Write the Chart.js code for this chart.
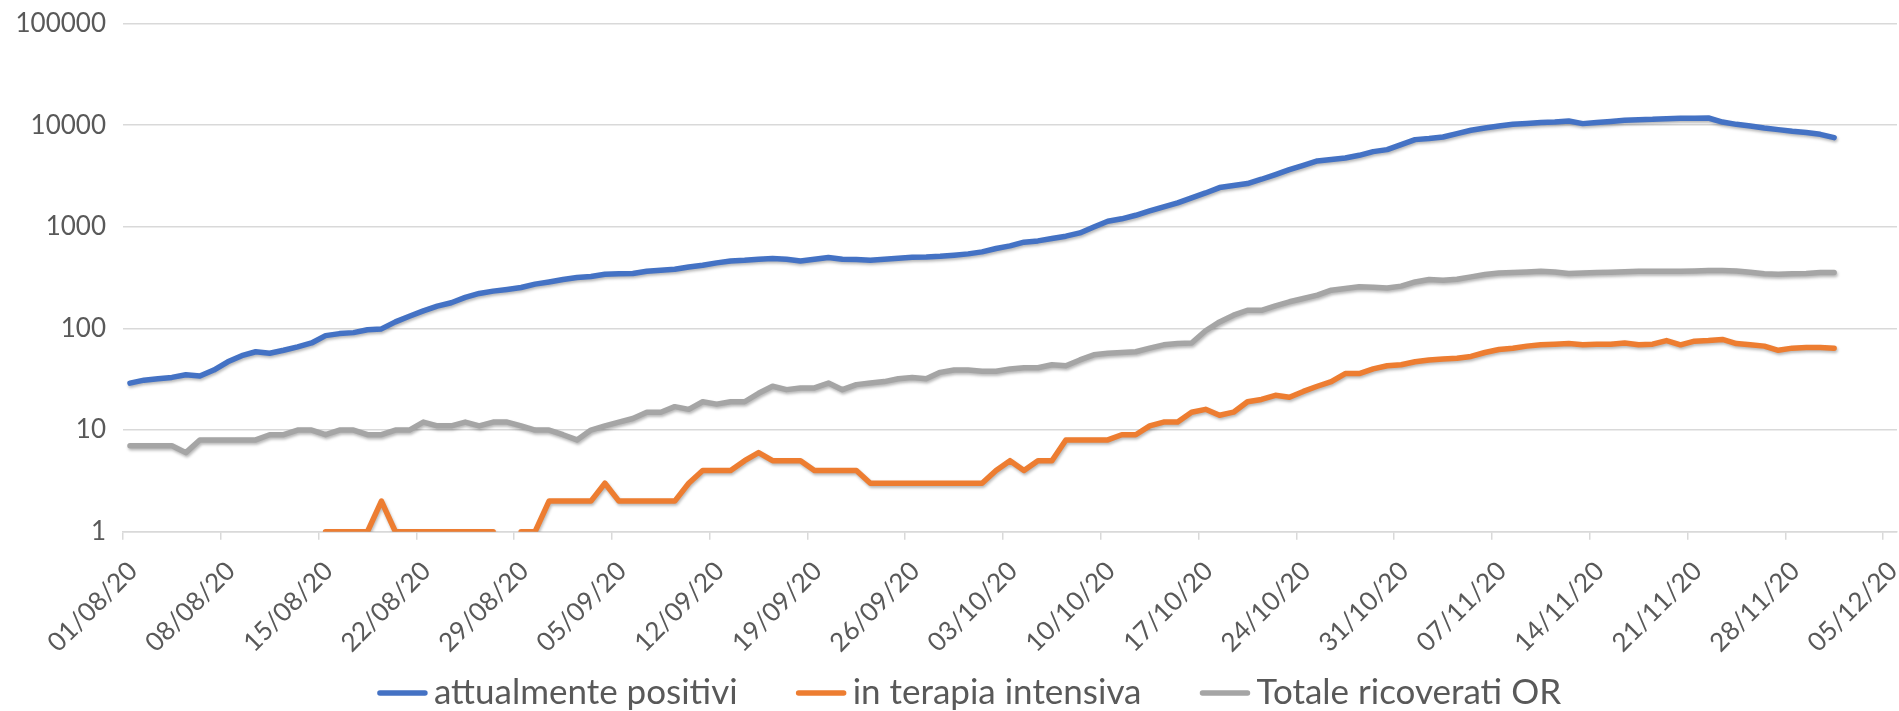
<!DOCTYPE html>
<html lang="it">
<head>
<meta charset="UTF-8">
<title>Attualmente positivi, terapia intensiva, ricoverati</title>
<style>
  html, body { margin: 0; padding: 0; background: #fff; }
  #wrap { width: 1899px; height: 711px; position: relative; }
</style>
</head>
<body>
<div id="wrap"><canvas id="grafico"></canvas></div>
<script src="https://cdn.jsdelivr.net/npm/chart.js@4"></script>
<script>
// one value per day, from 01/08/20 to 01/12/20
const positivi = [29,31,32,33,35,34,39,47,54,59, 57,61,66,72,85,89,91,97,99,116,
  132,149,166,179,202,221,233,242,253,273, 287,303,317,325,342,345,347,366,374,383,
  403,419,442,462,469,480,488,480,462,480, 499,480,477,470,480,491,503,506,514,526,
  542,567,612,649,706,727,767,809,871,998, 1135,1200,1300,1433,1570,1718,1925,2155,2435,2548,
  2667,2940,3268,3659,4035,4448,4592,4757,5058,5500, 5755,6445,7216,7386,7655,8265,8914,9390,9820,10200,
  10370,10610,10750,11000,10370,10660,10900,11200,11350,11430, 11610,11700,11700,11780,10750,10200,9820,9390,9050,8710,
  8460,8140,7550];

// null = 0 (not drawable on a log axis)
const terapia = [null,null,null,null,null,null,null,null,null,null, null,null,null,null,1,1,1,1,2,1,
  1,1,1,1,1,1,1,null,1,1, 2,2,2,2,3,2,2,2,2,2,
  3,4,4,4,5,6,5,5,5,4, 4,4,4,3,3,3,3,3,3,3,
  3,3,4,5,4,5,5,8,8,8, 8,9,9,11,12,12,15,16,14,15,
  19,20,22,21,24,27,30,36,36,40, 43,44,47,49,50,51,53,58,62,64,
  67,69,70,71,69,70,70,72,69,70, 76,69,75,76,78,71,69,67,61,64,
  65,65,64];

const ricoverati = [7,7,7,7,6,8,8,8,8,8, 9,9,10,10,9,10,10,9,9,10,
  10,12,11,11,12,11,12,12,11,10, 10,9,8,10,11,12,13,15,15,17,
  16,19,18,19,19,23,27,25,26,26, 29,25,28,29,30,32,33,32,37,39,
  39,38,38,40,41,41,44,43,49,55, 57,58,59,64,69,71,72,95,116,135,
  151,151,167,183,197,213,238,247,257,255, 250,261,287,303,298,305,322,340,352,355,
  360,366,360,347,352,355,358,362,366,366, 366,366,368,372,372,368,357,345,342,345,
  348,355,355];

const xTickLabels = ['01/08/20','08/08/20','15/08/20','22/08/20','29/08/20','05/09/20','12/09/20',
  '19/09/20','26/09/20','03/10/20','10/10/20','17/10/20','24/10/20','31/10/20','07/11/20',
  '14/11/20','21/11/20','28/11/20','05/12/20'];
const yTicks = [1, 10, 100, 1000, 10000, 100000];

const grigioTesto = '#595959';
const griglia = '#D9D9D9';
const fontTick = { family: 'Lato', size: 26 };

// each day sits in the middle of its slot
function punti(serie) {
  return serie.map((v, i) => ({ x: i + 0.5, y: v }));
}

function linea(label, serie, colore) {
  return {
    label: label,
    data: punti(serie),
    borderColor: colore,
    backgroundColor: colore,
    borderWidth: 5.5,
    borderCapStyle: 'round',
    borderJoinStyle: 'round',
    pointRadius: 0,
    tension: 0,
    spanGaps: false
  };
}

// soft shadow under the lines, like the spreadsheet effect
const ombra = {
  id: 'ombra',
  beforeDatasetDraw(chart) {
    const c = chart.ctx;
    c.save();
    c.shadowColor = 'rgba(0,0,0,0.28)';
    c.shadowBlur = 3;
    c.shadowOffsetX = 1;
    c.shadowOffsetY = 2;
  },
  afterDatasetDraw(chart) {
    chart.ctx.restore();
  }
};

// legend row under the axis: short line + label, centred
const legenda = {
  id: 'legenda',
  afterDraw(chart) {
    const c = chart.ctx;
    const ds = chart.data.datasets;
    const lungLinea = 51, spazioTesto = 6, spazioVoce = 58;
    c.save();
    c.font = '35px Lato';
    c.textBaseline = 'middle';
    const larghezze = ds.map(d => lungLinea + spazioTesto + c.measureText(d.label).width);
    const totale = larghezze.reduce((a, b) => a + b, 0) + spazioVoce * (ds.length - 1);
    let x = 969 - totale / 2;
    const y = 693;
    ds.forEach((d, k) => {
      c.strokeStyle = d.borderColor;
      c.lineWidth = 5.5;
      c.lineCap = 'round';
      c.beginPath();
      c.moveTo(x + 3, y);
      c.lineTo(x + lungLinea - 3, y);
      c.stroke();
      c.fillStyle = grigioTesto;
      c.fillText(d.label, x + lungLinea + spazioTesto, y);
      x += larghezze[k] + spazioVoce;
    });
    c.restore();
  }
};

new Chart(document.getElementById('grafico'), {
  type: 'line',
  data: {
    datasets: [
      linea('attualmente positivi', positivi, '#4472C4'),
      linea('in terapia intensiva', terapia, '#ED7D31'),
      linea('Totale ricoverati OR', ricoverati, '#A5A5A5')
    ]
  },
  options: {
    responsive: true,
    maintainAspectRatio: false,
    animation: false,
    events: [],
    layout: { padding: { top: 23.6, right: 2, bottom: 0, left: 0 } },
    scales: {
      x: {
        type: 'linear',
        min: 0,
        max: 127,
        afterBuildTicks: (s) => { s.ticks = xTickLabels.map((l, k) => ({ value: k * 7 })); },
        // fixed height, and no extra side room for the slanted labels
        afterFit: (s) => { s.height = 179.3; s.paddingRight = 0; s.paddingLeft = 0; },
        ticks: {
          callback: (v) => xTickLabels[Math.round(v / 7)],
          autoSkip: false,
          minRotation: 45,
          maxRotation: 45,
          labelOffset: 10,
          padding: 16,
          color: grigioTesto,
          font: fontTick
        },
        grid: { drawOnChartArea: false, drawTicks: true, tickLength: 8, color: griglia, lineWidth: 1.5 },
        border: { display: true, color: griglia, width: 1.5 }
      },
      y: {
        type: 'logarithmic',
        min: 1,
        max: 100000,
        afterBuildTicks: (s) => { s.ticks = yTicks.map(v => ({ value: v })); },
        afterFit: (s) => { s.width = 123; },
        ticks: {
          callback: (v) => String(v),
          padding: 0,
          color: grigioTesto,
          font: fontTick
        },
        // invisible tick marks keep the labels 17px off the plot
        grid: { color: griglia, lineWidth: 1.5, drawTicks: true, tickLength: 17, tickColor: 'rgba(0,0,0,0)' },
        border: { display: false }
      }
    },
    plugins: {
      legend: { display: false },
      tooltip: { enabled: false }
    }
  },
  plugins: [ombra, legenda]
});
</script>
</body>
</html>
